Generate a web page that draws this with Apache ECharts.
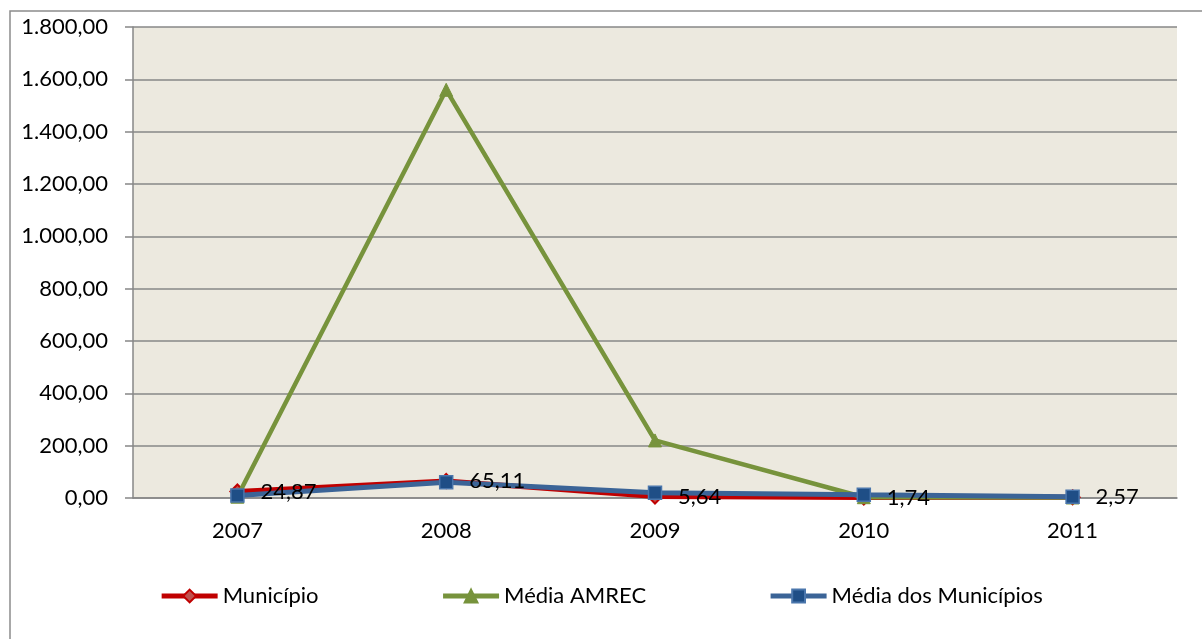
<!DOCTYPE html>
<html><head><meta charset="utf-8">
<script src="https://cdn.jsdelivr.net/npm/echarts@6/dist/echarts.min.js"></script>
<style>html,body{margin:0;padding:0;background:#fff}#c{width:1202px;height:639px}</style>
</head><body><div id="c"></div>
<script>
const categories = ['2007','2008','2009','2010','2011'];
const municipio = [24.87, 65.11, 5.64, 1.74, 2.57];
const mediaAmrec = [5, 1560, 220, 3, 2];
const mediaMunicipios = [10, 60, 20, 12, 5];
const yTicks = {min: 0, max: 1800, interval: 200};

const fmt = v => v.toLocaleString('pt-BR', {minimumFractionDigits: 2, maximumFractionDigits: 2});
const FONT = 'Lato';
const FS = 22;
const RED = '#C00000', GREEN = '#77933C', BLUE = '#3B6497';
const chart = echarts.init(document.getElementById('c'));
chart.setOption({
  animation: false,
  textStyle: {fontFamily: FONT},
  graphic: [{type: 'rect', shape: {x: 10, y: 11, width: 1200, height: 640}, style: {fill: 'none', stroke: '#8c8c8c', lineWidth: 1.5}, z: -10}],
  grid: {left: 133, right: 25, top: 27, bottom: 141, show: true, backgroundColor: '#ECE9DF', borderWidth: 0},
  legend: {
    bottom: 27, left: 'center', itemGap: 122, itemWidth: 56, itemHeight: 16,
    textStyle: {fontFamily: FONT, fontSize: FS, color: '#000'},
    data: [
      {name: 'Município', lineStyle: {width: 5, color: RED}},
      {name: 'Média AMREC', lineStyle: {width: 5, color: GREEN}},
      {name: 'Média dos Municípios', lineStyle: {width: 5, color: BLUE}}
    ]
  },
  xAxis: {
    type: 'category', data: categories, boundaryGap: true,
    axisLine: {show: true, lineStyle: {color: '#878787', width: 1.5}},
    axisTick: {show: false},
    axisLabel: {fontFamily: FONT, fontSize: FS, color: '#000', margin: 22}
  },
  yAxis: {
    type: 'value', min: yTicks.min, max: yTicks.max, interval: yTicks.interval,
    axisLine: {show: true, lineStyle: {color: '#878787', width: 1.5}},
    axisTick: {show: true, inside: false, length: 8, lineStyle: {color: '#878787', width: 1.5}},
    splitLine: {show: true, lineStyle: {color: '#878787', width: 1.5}},
    axisLabel: {fontFamily: FONT, fontSize: FS, color: '#000', margin: 25, formatter: v => fmt(v)}
  },
  series: [
    {
      name: 'Município', type: 'line', data: municipio, z: 2,
      lineStyle: {color: RED, width: 5},
      itemStyle: {color: '#C0504D', borderColor: RED, borderWidth: 2},
      symbol: 'diamond', symbolSize: 14
    },
    {
      name: 'Média AMREC', type: 'line', data: mediaAmrec, z: 3,
      lineStyle: {color: GREEN, width: 4.5},
      itemStyle: {color: GREEN, borderColor: GREEN, borderWidth: 1},
      symbol: 'triangle', symbolSize: 13
    },
    {
      name: 'Média dos Municípios', type: 'line', data: mediaMunicipios, z: 4,
      lineStyle: {color: BLUE, width: 5},
      itemStyle: {color: '#1F4E86', borderColor: '#4A76AC', borderWidth: 1.5},
      symbol: 'rect', symbolSize: 13
    },
    {
      name: 'Município labels', type: 'line', data: municipio, z: 10,
      lineStyle: {color: 'rgba(0,0,0,0)', width: 0}, symbol: 'circle', symbolSize: 14,
      itemStyle: {color: 'rgba(0,0,0,0)', borderWidth: 0},
      silent: true, tooltip: {show: false},
      label: {show: true, position: 'right', distance: 16, fontFamily: FONT, fontSize: FS, color: '#000', formatter: p => fmt(p.value)},
      labelLayout: {moveOverlap: false}
    }
  ]
});
</script></body></html>
